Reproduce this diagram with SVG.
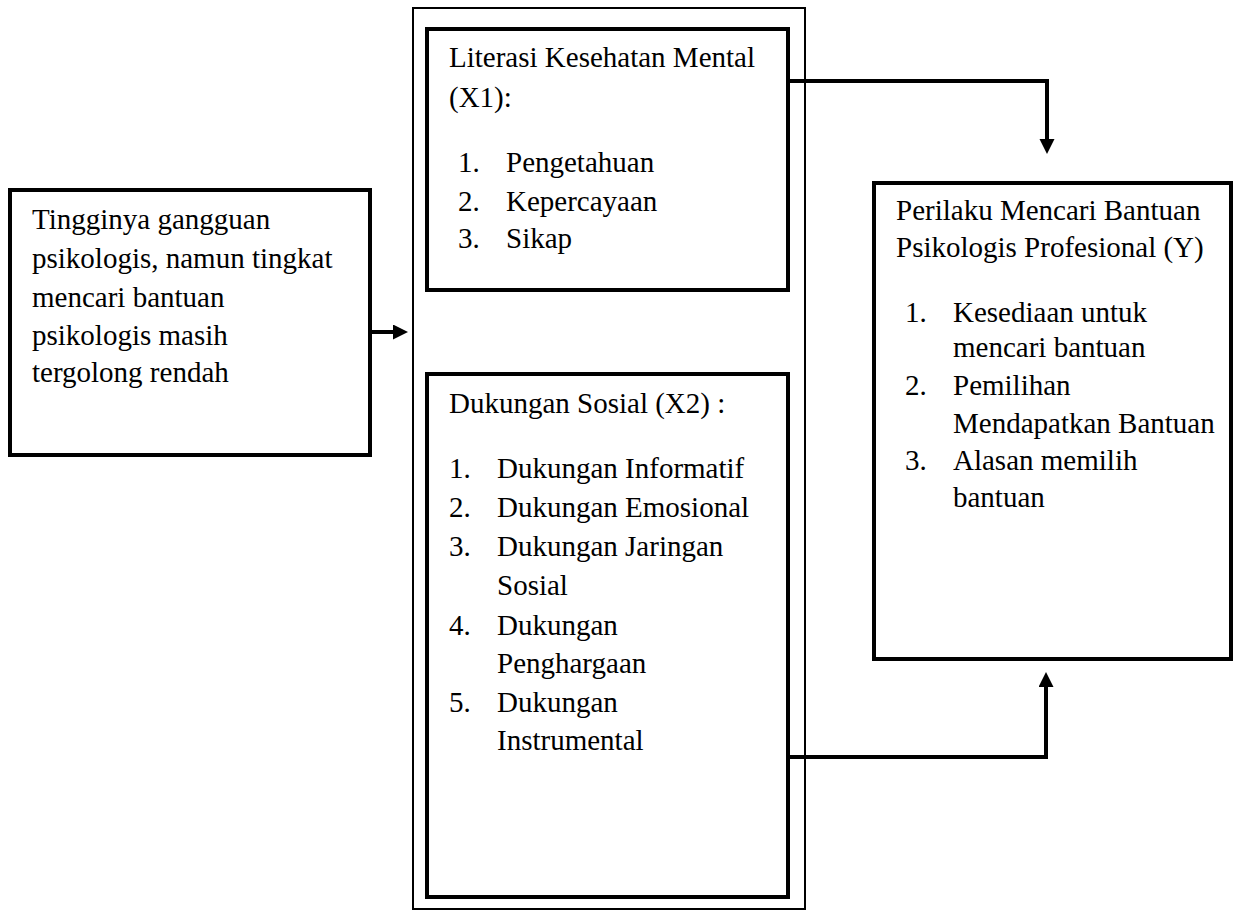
<svg xmlns="http://www.w3.org/2000/svg" width="1234" height="910" viewBox="0 0 1234 910" font-family="'Liberation Serif', 'Times New Roman', Tinos, 'DejaVu Serif', serif" font-size="29">
<style>
.box{fill:#fff;stroke:#000;stroke-width:4}
.outer{fill:none;stroke:#000;stroke-width:2}
.conn{fill:none;stroke:#000;stroke-width:4}
</style>
<defs>
<marker id="ah" markerUnits="userSpaceOnUse" markerWidth="16" markerHeight="16" refX="1" refY="7.5" orient="auto">
<path d="M0,0 L15,7.5 L0,15 z" fill="#000"/>
</marker>
</defs>
<rect width="1234" height="910" fill="#fff"/>
<g id="container">
<rect class="outer" x="413" y="8" width="392" height="901"/>
</g>
<g id="left">
<rect class="box" x="10" y="190" width="360" height="265"/>
<text x="32" y="229">Tingginya gangguan</text>
<text x="32" y="268">psikologis, namun tingkat</text>
<text x="32" y="307">mencari bantuan</text>
<text x="32" y="345">psikologis masih</text>
<text x="32" y="382">tergolong rendah</text>
</g>
<g id="x1">
<rect class="box" x="427" y="29" width="361" height="261"/>
<text x="449" y="67">Literasi Kesehatan Mental</text>
<text x="449" y="107">(X1):</text>
<text x="458" y="172">1.</text><text x="506" y="172">Pengetahuan</text>
<text x="458" y="211">2.</text><text x="506" y="211">Kepercayaan</text>
<text x="458" y="248">3.</text><text x="506" y="248">Sikap</text>
</g>
<g id="x2">
<rect class="box" x="427" y="374" width="361" height="523"/>
<text x="449" y="413">Dukungan Sosial (X2) :</text>
<text x="449" y="478">1.</text><text x="497" y="478">Dukungan Informatif</text>
<text x="449" y="517">2.</text><text x="497" y="517">Dukungan Emosional</text>
<text x="449" y="556">3.</text><text x="497" y="556">Dukungan Jaringan</text>
<text x="497" y="595">Sosial</text>
<text x="449" y="635">4.</text><text x="497" y="635">Dukungan</text>
<text x="497" y="673">Penghargaan</text>
<text x="449" y="712">5.</text><text x="497" y="712">Dukungan</text>
<text x="497" y="750">Instrumental</text>
</g>
<g id="y">
<rect class="box" x="874" y="183" width="357" height="476"/>
<text x="896" y="220">Perilaku Mencari Bantuan</text>
<text x="896" y="257">Psikologis Profesional (Y)</text>
<text x="905" y="322">1.</text><text x="953" y="322">Kesediaan untuk</text>
<text x="953" y="357">mencari bantuan</text>
<text x="905" y="395">2.</text><text x="953" y="395">Pemilihan</text>
<text x="953" y="433">Mendapatkan Bantuan</text>
<text x="905" y="470">3.</text><text x="953" y="470">Alasan memilih</text>
<text x="953" y="507">bantuan</text>
</g>
<g id="connectors">
<path class="conn" d="M370,332 H394" marker-end="url(#ah)"/>
<path class="conn" d="M786,81 H1047 V140" marker-end="url(#ah)"/>
<path class="conn" d="M786,757 H1046 V686" marker-end="url(#ah)"/>
</g>
</svg>
